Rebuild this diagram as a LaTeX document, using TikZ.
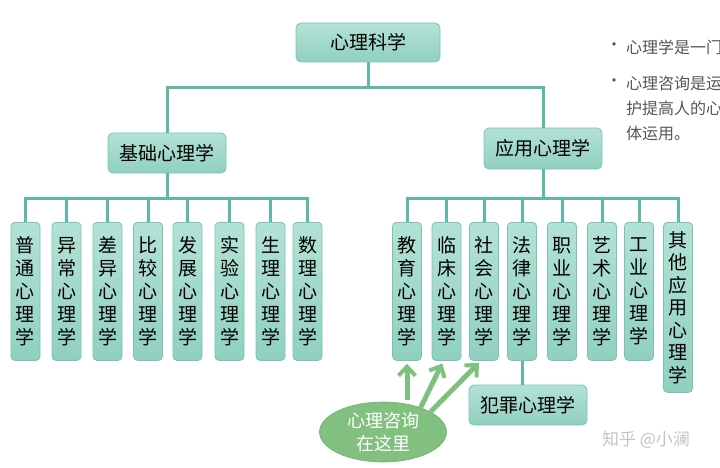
\documentclass[tikz,border=0pt]{standalone}
\usepackage{fontspec}
\setmainfont{Noto Sans CJK SC}
\usetikzlibrary{shapes.geometric,arrows.meta}
\definecolor{boxtop}{HTML}{B3E2D6}
\definecolor{boxbot}{HTML}{90D0C0}
\definecolor{boxline}{HTML}{7CC2B2}
\definecolor{conn}{HTML}{5DB9A5}
\definecolor{gfill}{HTML}{82C080}
\definecolor{garr}{HTML}{80C07E}
\definecolor{bultext}{HTML}{555555}
\definecolor{wm}{HTML}{C4C4C4}
\tikzset{
  hbox/.style={draw=boxline, line width=0.8pt, rounded corners=5pt, top color=boxtop, bottom color=boxbot,
    inner sep=0pt, minimum width=118pt, minimum height=40pt, font=\fontsize{19}{23}\selectfont},
  vbox/.style={draw=boxline, line width=0.8pt, rounded corners=4pt, top color=boxtop, bottom color=boxbot,
    inner sep=0pt, minimum width=29pt, minimum height=138pt, anchor=north, align=center,
    font=\fontsize{19}{23}\selectfont},
  connline/.style={draw=conn, line width=3pt},
  garrow/.style={draw=garr, line width=5pt, shorten >=3pt,
    -{Straight Barb[length=9pt,width=17pt,line width=4pt]}},
  bul/.style={anchor=west, inner sep=0pt, text=bultext, font=\fontsize{16}{20}\selectfont},
}
\begin{document}
\begin{tikzpicture}[x=1pt,y=-1pt]
\useasboundingbox (0,0) rectangle (720,468);
\clip (0,0) rectangle (720,468);
% top level
\node[hbox, minimum width=144pt, minimum height=39pt] (root) at (368,42.5) {心理科学};
\node[hbox] (jc) at (167,153) {基础心理学};
\node[hbox, minimum height=41pt] (yy) at (543,148.5) {应用心理学};
\coordinate (h1) at (368,88);
\draw[connline] (root.south) -- (h1);
\draw[connline] (jc.north) |- (h1);
\draw[connline] (yy.north) |- (h1);
% left children
\node[vbox] (a1) at (25.5,222) {普\\通\\心\\理\\学};
\node[vbox] (a2) at (66.5,222) {异\\常\\心\\理\\学};
\node[vbox] (a3) at (107.5,222) {差\\异\\心\\理\\学};
\node[vbox] (a4) at (148,222) {比\\较\\心\\理\\学};
\node[vbox] (a5) at (187.5,222) {发\\展\\心\\理\\学};
\node[vbox] (a6) at (229.5,222) {实\\验\\心\\理\\学};
\node[vbox] (a7) at (270.5,222) {生\\理\\心\\理\\学};
\node[vbox] (a8) at (307.5,222) {数\\理\\心\\理\\学};
\coordinate (h2) at (167,198);
\draw[connline] (jc.south) -- (h2);
\foreach \n in {a1,a2,a3,a4,a5,a6,a7,a8}{\draw[connline] (\n.north) |- (h2);}
% right children
\node[vbox] (b1) at (407,222) {教\\育\\心\\理\\学};
\node[vbox] (b2) at (446.5,222) {临\\床\\心\\理\\学};
\node[vbox] (b3) at (484,222) {社\\会\\心\\理\\学};
\node[vbox] (b4) at (522,222) {法\\律\\心\\理\\学};
\node[vbox] (b5) at (562,222) {职\\业\\心\\理\\学};
\node[vbox] (b6) at (602,222) {艺\\术\\心\\理\\学};
\node[vbox] (b7) at (639,222) {工\\业\\心\\理\\学};
\node[vbox, minimum height=170pt, font=\fontsize{19}{22.5}\selectfont] (b8) at (678,222) {其\\他\\应\\用\\心\\理\\学};
\coordinate (h3) at (543,198);
\draw[connline] (yy.south) -- (h3);
\foreach \n in {b1,b2,b3,b4,b5,b6,b7,b8}{\draw[connline] (\n.north) |- (h3);}
% crime psychology
\node[hbox] (fz) at (528,405) {犯罪心理学};
\draw[connline] (b4.south) -- (b4.south |- fz.north);
% counselling ellipse
\node[ellipse, fill=gfill, draw=gfill!90!black, line width=0.6pt, minimum width=127pt, minimum height=60pt,
  inner sep=0pt, align=center, text=white, font=\fontsize{18}{23}\selectfont] (el) at (383,432) {心理咨询\\在这里};
\draw[garrow] (el.north -| b1.south) ++(0,-2) -- (b1.south);
\draw[garrow] (el.33) -- ([xshift=-3pt]b2.south);
\draw[garrow] (el.23) -- ([xshift=-3pt]b3.south);
% bullet text
\node[bul] (d1) at (606,47) {•};
\node[bul] (t1) at (626,47) {心理学是一门科学};
\node[bul] (d2) at (606,83) {•};
\node[bul] (t2) at (626,83) {心理咨询是运用心理学};
\node[bul] (t3) at (626,108) {护提高人的心理健康};
\node[bul] (t4) at (626,133) {体运用。};
% watermark
\node[anchor=center, text=wm, font=\fontsize{17}{20}\selectfont] (w) at (646,440) {知乎 @小澜};
\end{tikzpicture}
\end{document}
